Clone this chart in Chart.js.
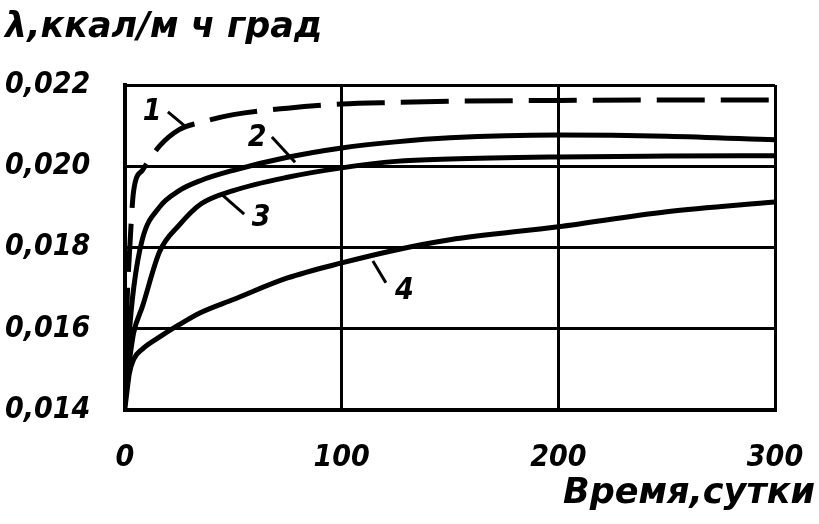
<!DOCTYPE html>
<html>
<head>
<meta charset="utf-8">
<script src="https://cdn.jsdelivr.net/npm/chart.js@4"></script>
<style>
  html, body { margin: 0; padding: 0; background: #fff; }
  #wrap { width: 819px; height: 524px; }
</style>
</head>
<body>
<div id="wrap"><canvas id="lambdaChart" width="819" height="524"></canvas></div>
<script>
// time, days
const days = [0, 1, 2, 4, 8, 16, 25, 35, 50, 75, 100, 125, 150, 200, 250, 300];

// thermal conductivity, kcal/(m h deg)
const curve1 = [0.01425, 0.0167, 0.0178, 0.0194, 0.0199, 0.0205, 0.0209, 0.02108, 0.02127, 0.02143, 0.02153, 0.02157, 0.0216, 0.02162, 0.02163, 0.02163];
const curve2 = [0.01412, 0.0150, 0.0159, 0.0170, 0.0182, 0.0190, 0.0194, 0.01965, 0.0199, 0.02022, 0.02045, 0.0206, 0.0207, 0.02077, 0.02074, 0.02065];
const curve3 = [0.01415, 0.0148, 0.0152, 0.0159, 0.01654, 0.0179, 0.01855, 0.01907, 0.0194, 0.01973, 0.01996, 0.02012, 0.02018, 0.02023, 0.02025, 0.02026];
const curve4 = [0.01405, 0.0145, 0.0149, 0.01525, 0.0155, 0.0158, 0.0161, 0.0164, 0.01672, 0.01725, 0.01762, 0.01794, 0.01819, 0.01851, 0.01888, 0.01912];

const xTicks = [0, 100, 200, 300];
const yTicks = [0.014, 0.016, 0.018, 0.020, 0.022];

// curve numbers with leader lines, in data units: [text, x, y, leader from x, y, to x, y]
const curveLabels = [
    ['1', 12.5, 0.02134, 19.8, 0.02134, 27.7, 0.02099],
    ['2', 61, 0.0207, 67.8, 0.02072, 78.5, 0.0201],
    ['3', 62.8, 0.01873, 55, 0.01882, 45, 0.01929],
    ['4', 129, 0.01693, 120.4, 0.01713, 114.4, 0.01767]
];

const FONT = "'DejaVu Sans Condensed', 'Liberation Sans Narrow', 'DejaVu Sans', sans-serif";
const font = { family: FONT, size: 30, style: 'italic', weight: 'bold' };
const titleFont = { family: "'DejaVu Sans', sans-serif", size: 35, style: 'italic', weight: 'bold' };

const toPoints = vals => days.map((d, i) => ({ x: d, y: vals[i] }));

const lineStyle = {
    borderColor: '#000',
    borderWidth: 5,
    pointRadius: 0,
    fill: false,
    cubicInterpolationMode: 'monotone'
};

const curveLabelPlugin = {
    id: 'curveLabels',
    afterDatasetsDraw(chart) {
        const { ctx, scales: { x, y } } = chart;
        ctx.save();
        ctx.fillStyle = '#000';
        ctx.strokeStyle = '#000';
        ctx.lineWidth = 3;
        ctx.font = `italic bold 30px ${FONT}`;
        ctx.textAlign = 'center';
        ctx.textBaseline = 'middle';
        curveLabels.forEach(([txt, tx, ty, x1, y1, x2, y2]) => {
            ctx.fillText(txt, x.getPixelForValue(tx), y.getPixelForValue(ty));
            ctx.beginPath();
            ctx.moveTo(x.getPixelForValue(x1), y.getPixelForValue(y1));
            ctx.lineTo(x.getPixelForValue(x2), y.getPixelForValue(y2));
            ctx.stroke();
        });
        ctx.restore();
    }
};

new Chart(document.getElementById('lambdaChart'), {
    type: 'line',
    data: {
        datasets: [
            { ...lineStyle, label: '1', data: toPoints(curve1), borderDash: [48, 16] },
            { ...lineStyle, label: '2', data: toPoints(curve2) },
            { ...lineStyle, label: '3', data: toPoints(curve3) },
            { ...lineStyle, label: '4', data: toPoints(curve4) }
        ]
    },
    options: {
        responsive: false,
        animation: false,
        layout: { padding: { left: 5, right: 4, top: 0, bottom: 0 } },
        plugins: {
            legend: { display: false },
            tooltip: { enabled: false },
            title: {
                display: true,
                text: 'λ,ккал/м ч град',
                align: 'start',
                color: '#000',
                font: titleFont,
                padding: { top: 7, bottom: 36 }
            },
            subtitle: {
                display: true,
                position: 'bottom',
                text: 'Время,сутки',
                align: 'end',
                color: '#000',
                font: titleFont,
                padding: { top: 0, bottom: 9 }
            }
        },
        scales: {
            x: {
                type: 'linear',
                min: 0,
                max: 300,
                afterBuildTicks: s => { s.ticks = xTicks.map(v => ({ value: v })); },
                afterFit: s => { s.height = 63; },
                grid: { color: '#000', lineWidth: 3, drawTicks: false },
                border: { color: '#000', width: 4 },
                ticks: {
                    color: '#000',
                    font: { ...font, lineHeight: 2.5 },
                    padding: 11,
                    maxRotation: 0
                }
            },
            y: {
                type: 'linear',
                min: 0.014,
                max: 0.022,
                afterBuildTicks: s => { s.ticks = yTicks.map(v => ({ value: v })); },
                afterFit: s => { s.width = 120; },
                grid: { color: '#000', lineWidth: 3, drawTicks: false },
                border: { color: '#000', width: 4 },
                ticks: {
                    color: '#000',
                    font: font,
                    crossAlign: 'far',
                    padding: 0,
                    callback: v => v.toFixed(3).replace('.', ',')
                }
            },
            yRight: {
                position: 'right',
                min: 0,
                max: 1,
                afterFit: s => { s.width = 40; },
                grid: { display: false },
                border: { display: false },
                ticks: { display: false }
            }
        }
    },
    plugins: [curveLabelPlugin]
});
</script>
</body>
</html>
